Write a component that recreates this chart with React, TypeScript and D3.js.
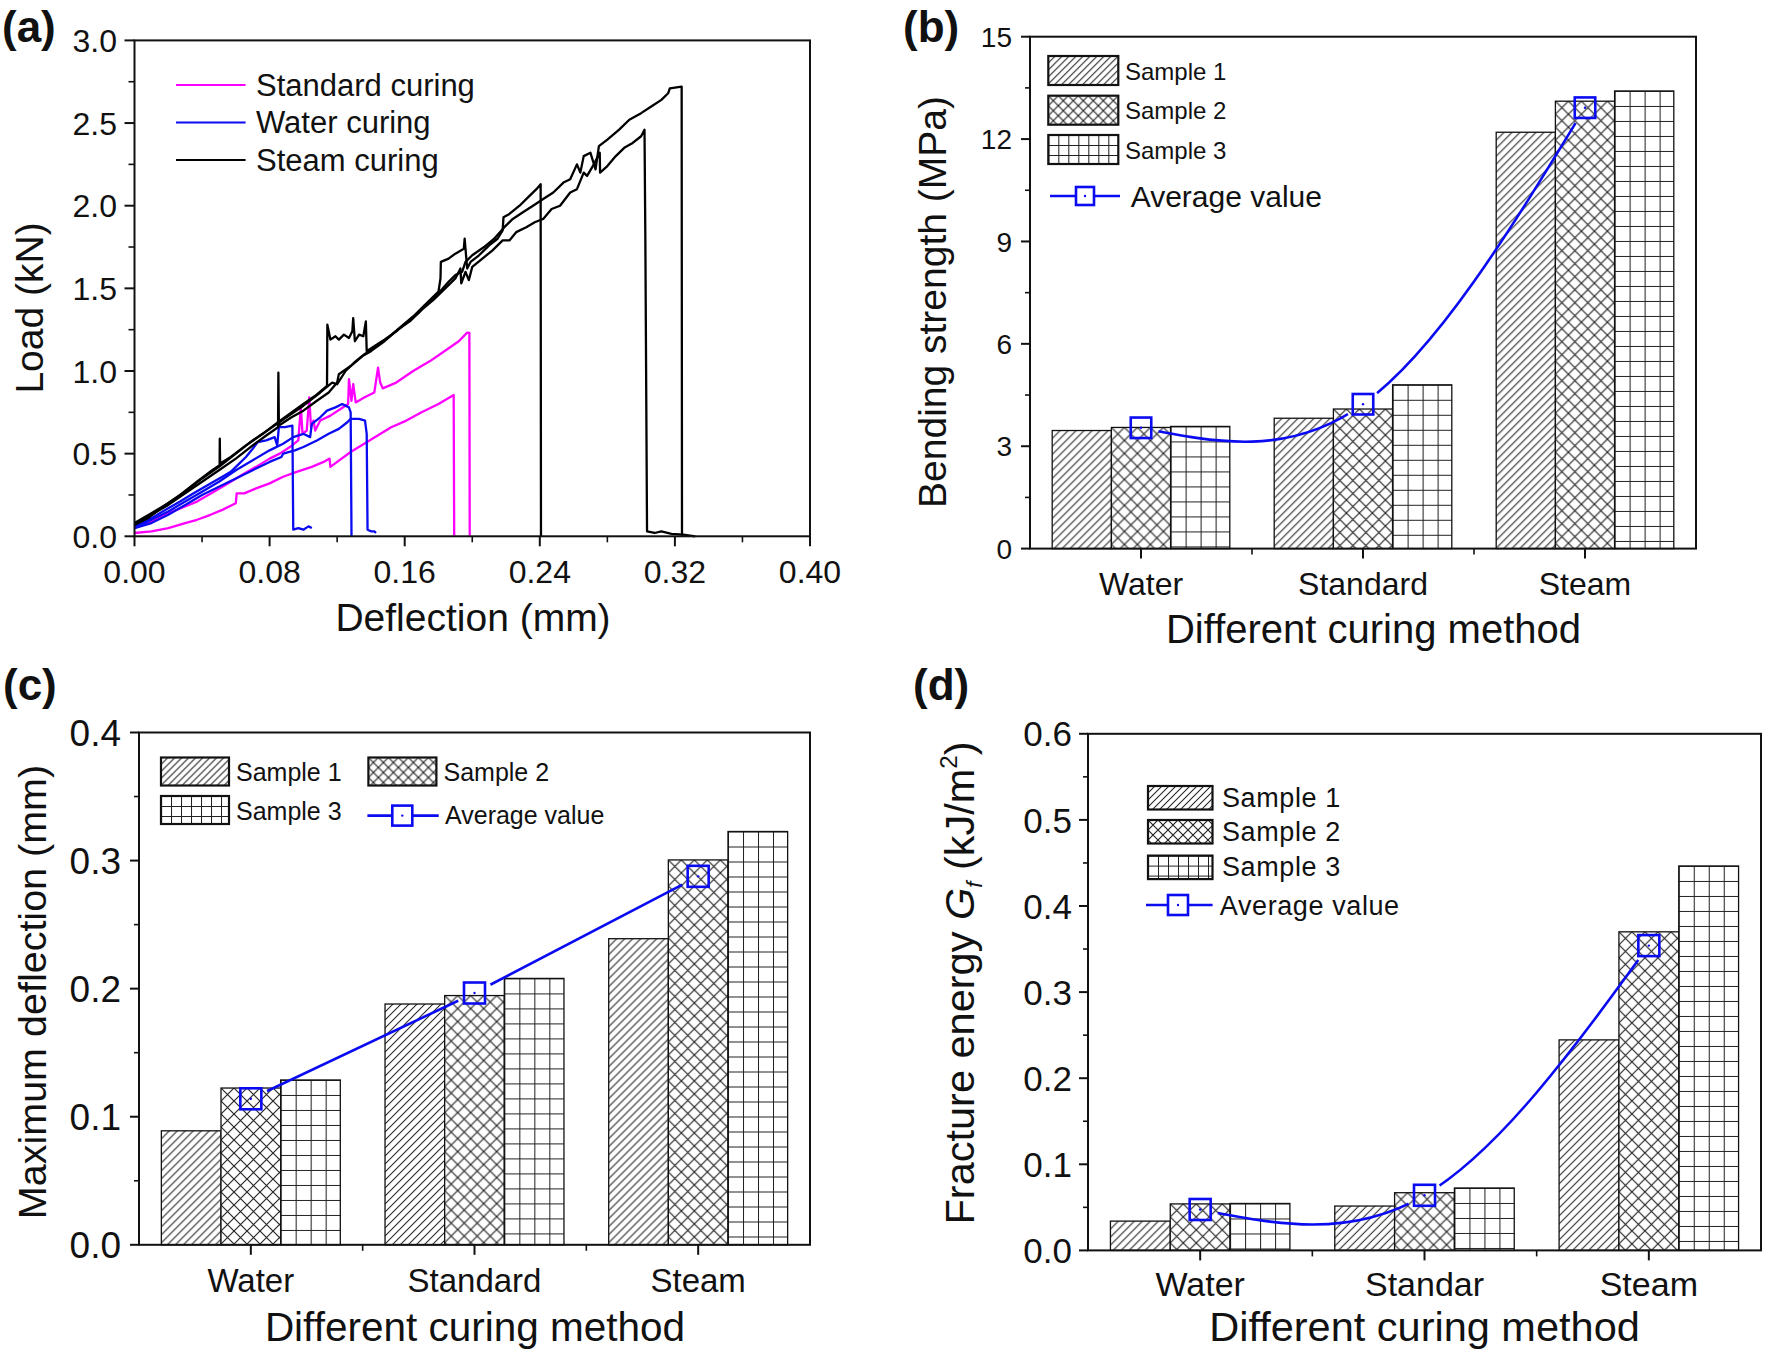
import React from "react";
import * as d3 from "d3";

const FONT = "'Liberation Sans', Arial, Helvetica, sans-serif";
const BLUE = "#0b0bf2";
const MAGENTA = "#ff00ff";
const INK = "#111";

// ---------- (a) load–deflection curves, points read as [deflection mm, load kN]
const standardA = [
  [0, 0.02], [0.01, 0.03], [0.02, 0.05], [0.03, 0.08], [0.037, 0.1], [0.045, 0.13], [0.052, 0.16],
  [0.06, 0.2], [0.0605, 0.26], [0.065, 0.26], [0.072, 0.29], [0.08, 0.32], [0.088, 0.36], [0.096, 0.39],
  [0.105, 0.42], [0.112, 0.45], [0.1155, 0.47], [0.116, 0.42], [0.12, 0.45], [0.128, 0.51], [0.136, 0.56],
  [0.144, 0.61], [0.152, 0.66], [0.161, 0.7], [0.17, 0.75], [0.18, 0.8], [0.189, 0.855], [0.1893, 0],
];
const standardB = [
  [0, 0.05], [0.01, 0.09], [0.02, 0.14], [0.03, 0.18], [0.037, 0.21], [0.047, 0.27], [0.057, 0.33],
  [0.065, 0.38], [0.072, 0.42], [0.08, 0.47], [0.086, 0.5], [0.092, 0.54], [0.097, 0.58], [0.0985, 0.78],
  [0.0995, 0.62], [0.102, 0.64], [0.1035, 0.84], [0.1045, 0.66], [0.106, 0.7], [0.107, 0.64], [0.11, 0.7],
  [0.116, 0.73], [0.122, 0.77], [0.1265, 0.8], [0.127, 0.95], [0.1285, 0.82], [0.1295, 0.92], [0.131, 0.81],
  [0.136, 0.84], [0.142, 0.87], [0.1442, 1.02], [0.1455, 0.93], [0.147, 0.895], [0.155, 0.93], [0.165, 1.0],
  [0.175, 1.06], [0.185, 1.13], [0.192, 1.18], [0.197, 1.232], [0.1983, 1.23], [0.1985, 0],
];
const waterA = [
  [0, 0.06], [0.01, 0.11], [0.02, 0.17], [0.027, 0.21], [0.035, 0.26], [0.045, 0.32], [0.052, 0.36],
  [0.057, 0.39], [0.062, 0.44], [0.066, 0.48], [0.07, 0.53], [0.073, 0.57], [0.078, 0.58], [0.083, 0.6],
  [0.0845, 0.55], [0.0855, 0.66], [0.089, 0.66], [0.0935, 0.67], [0.094, 0.04], [0.097, 0.05], [0.1, 0.04],
  [0.103, 0.06], [0.105, 0.05],
];
const waterB = [
  [0, 0.05], [0.01, 0.1], [0.02, 0.15], [0.03, 0.21], [0.04, 0.27], [0.05, 0.33], [0.06, 0.4], [0.07, 0.46],
  [0.08, 0.52], [0.088, 0.56], [0.094, 0.6], [0.1, 0.62], [0.104, 0.6], [0.105, 0.68], [0.11, 0.72],
  [0.114, 0.76], [0.119, 0.78], [0.123, 0.8], [0.127, 0.78], [0.128, 0.75], [0.1285, 0],
];
const waterC = [
  [0, 0.05], [0.01, 0.08], [0.02, 0.13], [0.03, 0.19], [0.04, 0.25], [0.05, 0.3], [0.06, 0.35], [0.07, 0.4],
  [0.08, 0.45], [0.087, 0.48], [0.088, 0.5], [0.095, 0.52], [0.1, 0.54], [0.108, 0.58], [0.115, 0.62],
  [0.121, 0.65], [0.126, 0.69], [0.128, 0.71], [0.133, 0.71], [0.1365, 0.7], [0.1375, 0.62], [0.138, 0.04],
  [0.14, 0.03], [0.142, 0.03], [0.143, 0.02],
];
const steamA = [
  [0, 0.07], [0.008, 0.11], [0.017, 0.18], [0.027, 0.25], [0.037, 0.33], [0.046, 0.4], [0.0504, 0.43],
  [0.0505, 0.59], [0.0507, 0.44], [0.057, 0.48], [0.066, 0.55], [0.076, 0.62], [0.085, 0.69], [0.093, 0.75],
  [0.1, 0.8], [0.107, 0.85], [0.114, 0.91], [0.1142, 1.28], [0.116, 1.19], [0.119, 1.21], [0.121, 1.19],
  [0.124, 1.22], [0.127, 1.2], [0.129, 1.24], [0.1295, 1.32], [0.1305, 1.18], [0.133, 1.22], [0.1355, 1.21],
  [0.137, 1.3], [0.1375, 1.12], [0.142, 1.15], [0.148, 1.19], [0.155, 1.24], [0.162, 1.3], [0.168, 1.35],
  [0.174, 1.42], [0.18, 1.48], [0.1812, 1.56], [0.1814, 1.66], [0.186, 1.68], [0.19, 1.71], [0.195, 1.74],
  [0.1955, 1.8], [0.197, 1.62], [0.199, 1.66], [0.204, 1.7], [0.21, 1.76], [0.215, 1.8], [0.218, 1.85],
  [0.2185, 1.93], [0.222, 1.95], [0.228, 2.0], [0.233, 2.05], [0.238, 2.1], [0.2405, 2.13], [0.2407, 0],
];
const steamB = [
  [0, 0.07], [0.01, 0.13], [0.02, 0.19], [0.03, 0.26], [0.04, 0.33], [0.05, 0.4], [0.06, 0.47], [0.07, 0.55],
  [0.078, 0.61], [0.085, 0.66], [0.0852, 0.99], [0.0855, 0.67], [0.093, 0.72], [0.1, 0.76], [0.108, 0.82],
  [0.115, 0.87], [0.12, 0.93], [0.121, 0.98], [0.128, 1.03], [0.135, 1.09], [0.14, 1.12], [0.148, 1.18],
  [0.156, 1.25], [0.163, 1.3], [0.17, 1.37], [0.177, 1.43], [0.184, 1.5], [0.19, 1.56], [0.193, 1.62],
  [0.1935, 1.53], [0.196, 1.6], [0.198, 1.55], [0.2, 1.63], [0.206, 1.68], [0.212, 1.73], [0.218, 1.79],
  [0.222, 1.79], [0.226, 1.84], [0.232, 1.87], [0.237, 1.9], [0.242, 1.92], [0.247, 1.98], [0.252, 2.0],
  [0.258, 2.08], [0.262, 2.1], [0.266, 2.2], [0.268, 2.18], [0.272, 2.25], [0.2755, 2.32], [0.2757, 2.2],
  [0.28, 2.24], [0.285, 2.3], [0.29, 2.35], [0.295, 2.38], [0.3, 2.42], [0.302, 2.46], [0.3025, 1.8],
  [0.3035, 0.03], [0.308, 0.02], [0.312, 0.03], [0.318, 0.015], [0.325, 0.01], [0.332, 0],
];
const steamC = [
  [0, 0.08], [0.01, 0.14], [0.02, 0.2], [0.03, 0.27], [0.04, 0.35], [0.05, 0.42], [0.06, 0.5], [0.07, 0.58],
  [0.08, 0.65], [0.09, 0.72], [0.1, 0.79], [0.11, 0.87], [0.117, 0.93], [0.12, 0.92], [0.125, 1.0],
  [0.13, 1.05], [0.136, 1.1], [0.142, 1.14], [0.15, 1.2], [0.158, 1.27], [0.165, 1.33], [0.172, 1.4],
  [0.18, 1.47], [0.186, 1.54], [0.19, 1.58], [0.194, 1.6], [0.196, 1.66], [0.2, 1.7], [0.207, 1.75],
  [0.213, 1.8], [0.219, 1.87], [0.224, 1.92], [0.23, 1.96], [0.236, 2.0], [0.242, 2.04], [0.248, 2.08],
  [0.254, 2.14], [0.258, 2.16], [0.262, 2.25], [0.264, 2.2], [0.266, 2.3], [0.27, 2.32], [0.273, 2.22],
  [0.275, 2.36], [0.28, 2.4], [0.287, 2.46], [0.293, 2.52], [0.3, 2.56], [0.306, 2.6], [0.312, 2.64],
  [0.316, 2.68], [0.317, 2.71], [0.324, 2.72], [0.3242, 0],
];
const curingLegend = ["Standard curing", "Water curing", "Steam curing"];
const deflectionTicks = [0, 0.08, 0.16, 0.24, 0.32, 0.4];
const loadTicks = [0, 0.5, 1, 1.5, 2, 2.5, 3];

// ---------- (b)(c)(d) bar data per curing method
const curingMethods = ["Water", "Standard", "Steam"];
const curingMethodsD = ["Water", "Standar", "Steam"];
const sampleNames = ["Sample 1", "Sample 2", "Sample 3"];

const bendingS1 = [3.46, 3.82, 12.2];
const bendingS2 = [3.55, 4.09, 13.11];
const bendingS3 = [3.58, 4.8, 13.41];
const bendingAvg = [3.54, 4.23, 12.92];

const deflS1 = [0.089, 0.188, 0.239];
const deflS2 = [0.1224, 0.1946, 0.3005];
const deflS3 = [0.1287, 0.208, 0.3227];
const deflAvg = [0.114, 0.1966, 0.2877];

const gfS1 = [0.034, 0.0515, 0.2445];
const gfS2 = [0.054, 0.067, 0.37];
const gfS3 = [0.0545, 0.0725, 0.4465];
const gfAvg = [0.0475, 0.064, 0.354];

type Frame = { left: number; top: number; right: number; bottom: number };

// kind 0: "////", 1: cross-hatch, 2: grid
function Hatch({ id, kind, size, x, y }: { id: string; kind: number; size: number; x: number; y: number }) {
  const s = size;
  let d = "";
  if (kind === 0) d = `M0,${s} L${s},0 M${-s / 2},${s / 2} L${s / 2},${-s / 2} M${s / 2},${s * 1.5} L${s * 1.5},${s / 2}`;
  else if (kind === 1) d = `M0,0 L${s},${s} M${s},0 L0,${s}`;
  else d = `M0,0.5 H${s} M0.5,0 V${s}`;
  return (
    <pattern id={id} patternUnits="userSpaceOnUse" width={s} height={s} x={x} y={y}>
      <rect width={s} height={s} fill="#fff" />
      <path d={d} stroke="#222" strokeWidth={kind === 1 ? 1.15 : 1.05} fill="none" />
    </pattern>
  );
}

const barHatch = [8, 13, 15];
const legendHatch = [7, 10, 10];

function Marker({ cx, cy, size }: { cx: number; cy: number; size: number }) {
  return (
    <g>
      <rect x={cx - size / 2} y={cy - size / 2} width={size} height={size} fill="none" stroke={BLUE} strokeWidth={2.6} />
      <circle cx={cx} cy={cy} r={1.2} fill={BLUE} />
    </g>
  );
}

function LegendBox({ id, kind, x, y, w, h }: { id: string; kind: number; x: number; y: number; w: number; h: number }) {
  return (
    <g>
      <defs>
        <Hatch id={id} kind={kind} size={legendHatch[kind]} x={x} y={y} />
      </defs>
      <rect x={x} y={y} width={w} height={h} fill={`url(#${id})`} stroke={INK} strokeWidth={2.2} />
    </g>
  );
}

function PanelA() {
  const f: Frame = { left: 134.5, top: 40.4, right: 810, bottom: 536.3 };
  const x = d3.scaleLinear().domain([0, 0.4]).range([f.left, f.right]);
  const y = d3.scaleLinear().domain([0, 3]).range([f.bottom, f.top]);
  const line = d3.line<number[]>().x((d) => x(d[0])).y((d) => y(d[1]));
  const curves = [
    { data: standardA, color: MAGENTA },
    { data: standardB, color: MAGENTA },
    { data: waterA, color: BLUE },
    { data: waterB, color: BLUE },
    { data: waterC, color: BLUE },
    { data: steamA, color: "#000" },
    { data: steamB, color: "#000" },
    { data: steamC, color: "#000" },
  ];
  const xMinor = d3.range(0.04, 0.4, 0.08);
  const yMinor = d3.range(0.25, 3, 0.5);
  const legendColors = [MAGENTA, BLUE, "#000"];
  const legendY = [85, 122.4, 160];
  return (
    <g>
      {curves.map((c, i) => (
        <path key={i} d={line(c.data) ?? ""} fill="none" stroke={c.color} strokeWidth={2.3} strokeLinejoin="round" />
      ))}
      <rect x={f.left} y={f.top} width={f.right - f.left} height={f.bottom - f.top} fill="none" stroke={INK} strokeWidth={2} />
      {deflectionTicks.map((t) => (
        <g key={t}>
          <line x1={x(t)} x2={x(t)} y1={f.bottom} y2={f.bottom + 10} stroke={INK} strokeWidth={2} />
          <text x={x(t)} y={583} fontSize={32} textAnchor="middle" fill={INK}>{d3.format(".2f")(t)}</text>
        </g>
      ))}
      {xMinor.map((t) => (
        <line key={t} x1={x(t)} x2={x(t)} y1={f.bottom} y2={f.bottom + 6} stroke={INK} strokeWidth={1.6} />
      ))}
      {loadTicks.map((t) => (
        <g key={t}>
          <line x1={f.left - 10} x2={f.left} y1={y(t)} y2={y(t)} stroke={INK} strokeWidth={2} />
          <text x={117} y={y(t) + 11.5} fontSize={32} textAnchor="end" fill={INK}>{d3.format(".1f")(t)}</text>
        </g>
      ))}
      {yMinor.map((t) => (
        <line key={t} x1={f.left - 6} x2={f.left} y1={y(t)} y2={y(t)} stroke={INK} strokeWidth={1.6} />
      ))}
      <text x={473} y={631} fontSize={39} textAnchor="middle" fill={INK}>Deflection (mm)</text>
      <text transform="translate(43,308) rotate(-90)" fontSize={39} textAnchor="middle" fill={INK}>Load (kN)</text>
      {curingLegend.map((name, i) => (
        <g key={name}>
          <line x1={176} x2={245.6} y1={legendY[i]} y2={legendY[i]} stroke={legendColors[i]} strokeWidth={2} />
          <text x={256} y={legendY[i] + 11} fontSize={31} fill={INK}>{name}</text>
        </g>
      ))}
      <text x={2} y={42} fontSize={44} fontWeight="bold" fill={INK}>(a)</text>
    </g>
  );
}

type BarPanelProps = {
  id: string;
  frame: Frame;
  yMax: number;
  yStep: number;
  fmt: (v: number) => string;
  cats: string[];
  series: number[][];
  avg: number[];
  curve: d3.CurveFactory;
  yTickFont: number;
  yLabelRight: number;
  xTickFont: number;
  xLabelBase: number;
  xTitle: [number, number, number];
  yTitle: [number, number, number];
  yTitleContent: React.ReactNode;
  tag: string;
  tagPos: [number, number];
  marker: number;
  children?: React.ReactNode;
};

function BarPanel(p: BarPanelProps) {
  const f = p.frame;
  const x = d3.scaleBand().domain(p.cats).range([f.left, f.right]).paddingInner(0.2).paddingOuter(0.1);
  const xs = d3.scaleBand().domain(sampleNames).range([0, x.bandwidth()]);
  const y = d3.scaleLinear().domain([0, p.yMax]).range([f.bottom, f.top]);
  const major = d3.range(0, p.yMax + 1e-9, p.yStep);
  const minor = d3.range(p.yStep / 2, p.yMax, p.yStep);
  const centers = p.cats.map((c) => (x(c) ?? 0) + x.bandwidth() / 2);
  const bounds = d3.range(1, p.cats.length).map((k) => f.left + x.step() * k);
  const pts = p.avg.map((v, i) => [centers[i], y(v)] as [number, number]);
  const path = d3.line().curve(p.curve)(pts) ?? "";
  const bars = p.series.flatMap((vals, s) =>
    vals.map((v, c) => ({
      key: `${p.id}-${s}-${c}`,
      kind: s,
      x: (x(p.cats[c]) ?? 0) + (xs(sampleNames[s]) ?? 0),
      y: y(v),
      w: xs.bandwidth(),
      h: y(0) - y(v),
    }))
  );
  return (
    <g>
      <defs>
        {bars.map((b) => (
          <Hatch key={b.key} id={b.key} kind={b.kind} size={barHatch[b.kind]} x={b.x} y={b.y} />
        ))}
        <mask id={`${p.id}-gap`} maskUnits="userSpaceOnUse" x={0} y={0} width={1772} height={1355}>
          <rect width={1772} height={1355} fill="#fff" />
          {pts.map((q, i) => (
            <circle key={i} cx={q[0]} cy={q[1]} r={18} fill="#000" />
          ))}
        </mask>
      </defs>
      {bars.map((b) => (
        <rect key={b.key} x={b.x} y={b.y} width={b.w} height={b.h} fill={`url(#${b.key})`} stroke={INK} strokeWidth={1.3} />
      ))}
      <path d={path} fill="none" stroke={BLUE} strokeWidth={2.6} mask={`url(#${p.id}-gap)`} />
      {pts.map((q, i) => (
        <Marker key={i} cx={q[0]} cy={q[1]} size={p.marker} />
      ))}
      <rect x={f.left} y={f.top} width={f.right - f.left} height={f.bottom - f.top} fill="none" stroke={INK} strokeWidth={2} />
      {major.map((t) => (
        <g key={t}>
          <line x1={f.left - 9} x2={f.left} y1={y(t)} y2={y(t)} stroke={INK} strokeWidth={2} />
          <text x={p.yLabelRight} y={y(t) + p.yTickFont * 0.36} fontSize={p.yTickFont} textAnchor="end" fill={INK}>
            {p.fmt(t)}
          </text>
        </g>
      ))}
      {minor.map((t) => (
        <line key={t} x1={f.left - 5} x2={f.left} y1={y(t)} y2={y(t)} stroke={INK} strokeWidth={1.6} />
      ))}
      {p.cats.map((c, i) => (
        <g key={c}>
          <line x1={centers[i]} x2={centers[i]} y1={f.bottom} y2={f.bottom + 10} stroke={INK} strokeWidth={2} />
          <text x={centers[i]} y={p.xLabelBase} fontSize={p.xTickFont} textAnchor="middle" fill={INK}>{c}</text>
        </g>
      ))}
      {bounds.map((b) => (
        <line key={b} x1={b} x2={b} y1={f.bottom} y2={f.bottom + 6} stroke={INK} strokeWidth={1.6} />
      ))}
      <text x={p.xTitle[0]} y={p.xTitle[1]} fontSize={p.xTitle[2]} textAnchor="middle" fill={INK}>
        Different curing method
      </text>
      <text transform={`translate(${p.yTitle[0]},${p.yTitle[1]}) rotate(-90)`} fontSize={p.yTitle[2]} textAnchor="middle" fill={INK}>
        {p.yTitleContent}
      </text>
      <text x={p.tagPos[0]} y={p.tagPos[1]} fontSize={44} fontWeight="bold" fill={INK}>{p.tag}</text>
      {p.children}
    </g>
  );
}

function LegendB() {
  const ys = [56, 95.7, 135];
  const base = [80, 119.3, 159];
  return (
    <g>
      {sampleNames.map((n, i) => (
        <g key={n}>
          <LegendBox id={`lb-${i}`} kind={i} x={1048.3} y={ys[i]} w={70} h={29} />
          <text x={1125} y={base[i]} fontSize={24} fill={INK}>{n}</text>
        </g>
      ))}
      <line x1={1050} x2={1120} y1={196} y2={196} stroke={BLUE} strokeWidth={2.6} />
      <rect x={1076} y={187} width={18} height={18} fill="#fff" />
      <Marker cx={1085} cy={196} size={18} />
      <text x={1130.7} y={206.7} fontSize={30} fill={INK}>Average value</text>
    </g>
  );
}

function LegendC() {
  const boxes = [
    [161, 757.5, 236, 781],
    [368.4, 757.5, 443.5, 781],
    [161, 796, 236, 820],
  ];
  return (
    <g>
      {sampleNames.map((n, i) => (
        <g key={n}>
          <LegendBox id={`lc-${i}`} kind={i} x={boxes[i][0]} y={boxes[i][1]} w={68} h={28} />
          <text x={boxes[i][2]} y={boxes[i][3]} fontSize={25} fill={INK}>{n}</text>
        </g>
      ))}
      <line x1={367.4} x2={438.7} y1={815.6} y2={815.6} stroke={BLUE} strokeWidth={2.6} />
      <rect x={392} y={805.6} width={20} height={20} fill="#fff" />
      <Marker cx={402.3} cy={815.6} size={20} />
      <text x={445} y={824} fontSize={25} fill={INK}>Average value</text>
    </g>
  );
}

function LegendD() {
  const ys = [786, 820, 855.6];
  const base = [807, 841.4, 876];
  return (
    <g>
      {sampleNames.map((n, i) => (
        <g key={n}>
          <LegendBox id={`ld-${i}`} kind={i} x={1148} y={ys[i]} w={64.5} h={23.5} />
          <text x={1222} y={base[i]} fontSize={27} letterSpacing={0.6} fill={INK}>{n}</text>
        </g>
      ))}
      <line x1={1146} x2={1212.6} y1={905} y2={905} stroke={BLUE} strokeWidth={2.6} />
      <rect x={1168} y={895} width={20} height={20} fill="#fff" />
      <Marker cx={1178} cy={905} size={20} />
      <text x={1219.8} y={914.6} fontSize={27} letterSpacing={0.6} fill={INK}>Average value</text>
    </g>
  );
}

export default function App() {
  return (
    <svg
      width={1772}
      height={1355}
      viewBox="0 0 1772 1355"
      fontFamily={FONT}
      style={{ position: "absolute", left: 0, top: 0, background: "#fff" }}
    >
      <rect width={1772} height={1355} fill="#fff" />
      <PanelA />
      <BarPanel
        id="b"
        frame={{ left: 1030, top: 36.7, right: 1696, bottom: 548.6 }}
        yMax={15}
        yStep={3}
        fmt={d3.format("d")}
        cats={curingMethods}
        series={[bendingS1, bendingS2, bendingS3]}
        avg={bendingAvg}
        curve={d3.curveNatural}
        yTickFont={28}
        yLabelRight={1012}
        xTickFont={32}
        xLabelBase={595}
        xTitle={[1373.5, 643, 40]}
        yTitle={[946, 302, 39]}
        yTitleContent="Bending strength (MPa)"
        tag="(b)"
        tagPos={[903, 42]}
        marker={20.5}
      >
        <LegendB />
      </BarPanel>
      <BarPanel
        id="c"
        frame={{ left: 139, top: 732.5, right: 810, bottom: 1244.8 }}
        yMax={0.4}
        yStep={0.1}
        fmt={d3.format(".1f")}
        cats={curingMethods}
        series={[deflS1, deflS2, deflS3]}
        avg={deflAvg}
        curve={d3.curveLinear}
        yTickFont={37}
        yLabelRight={121}
        xTickFont={33}
        xLabelBase={1292}
        xTitle={[475, 1341, 40.5]}
        yTitle={[46, 992, 39.5]}
        yTitleContent="Maximum deflection (mm)"
        tag="(c)"
        tagPos={[3, 700]}
        marker={21}
      >
        <LegendC />
      </BarPanel>
      <BarPanel
        id="d"
        frame={{ left: 1088, top: 733.8, right: 1761, bottom: 1250.4 }}
        yMax={0.6}
        yStep={0.1}
        fmt={d3.format(".1f")}
        cats={curingMethodsD}
        series={[gfS1, gfS2, gfS3]}
        avg={gfAvg}
        curve={d3.curveNatural}
        yTickFont={35}
        yLabelRight={1072}
        xTickFont={34}
        xLabelBase={1296}
        xTitle={[1424.5, 1341, 41.5]}
        yTitle={[974, 983, 41.5]}
        yTitleContent={
          <>
            Fracture energy{"  "}
            <tspan fontStyle="italic">G</tspan>
            <tspan fontStyle="italic" fontSize={22} dy={8}>f</tspan>
            <tspan dy={-8}>{"  (kJ/m"}</tspan>
            <tspan fontSize={24} dy={-17}>2</tspan>
            <tspan dy={17}>)</tspan>
          </>
        }
        tag="(d)"
        tagPos={[913, 700]}
        marker={21}
      >
        <LegendD />
      </BarPanel>
    </svg>
  );
}
